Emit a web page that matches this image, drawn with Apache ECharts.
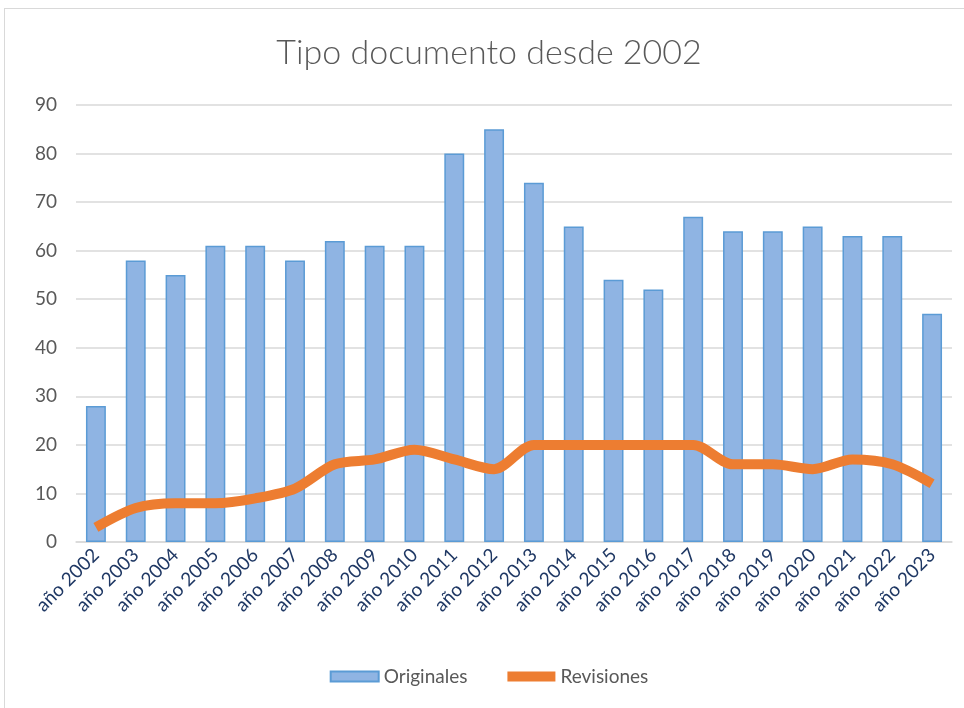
<!DOCTYPE html>
<html>
<head>
  <meta charset="utf-8">
  <script src="https://cdn.jsdelivr.net/npm/echarts@6/dist/echarts.min.js"></script>
  <style>
    html, body { margin: 0; padding: 0; background: #fff; }
    #chart {
      position: absolute;
      left: 4px;
      top: 8px;
      width: 970px;
      height: 710px;
      border: 1px solid #d9d9d9;
      box-sizing: border-box;
    }
  </style>
</head>
<body>
  <div id="chart"></div>
  <script>
    var years = ['año 2002', 'año 2003', 'año 2004', 'año 2005', 'año 2006', 'año 2007',
      'año 2008', 'año 2009', 'año 2010', 'año 2011', 'año 2012', 'año 2013', 'año 2014',
      'año 2015', 'año 2016', 'año 2017', 'año 2018', 'año 2019', 'año 2020', 'año 2021',
      'año 2022', 'año 2023'];
    var originales = [28, 58, 55, 61, 61, 58, 62, 61, 61, 80, 85, 74, 65, 54, 52, 67, 64, 64, 65, 63, 63, 47];
    var revisiones = [3, 7, 8, 8, 9, 11, 16, 17, 19, 17, 15, 20, 20, 20, 20, 20, 16, 16, 15, 17, 16, 12];

    var font = 'Lato, Carlito, sans-serif';
    var chart = echarts.init(document.getElementById('chart'));
    chart.setOption({
      animation: false,
      textStyle: { fontFamily: font },
      title: {
        text: 'Tipo documento desde 2002',
        left: 'center',
        top: 22,
        textStyle: { fontSize: 34, fontWeight: 300, color: '#595959', fontFamily: font }
      },
      legend: {
        bottom: 26,
        left: 'center',
        itemGap: 40,
        itemWidth: 48,
        itemHeight: 10,
        textStyle: { fontSize: 19, color: '#595959', fontFamily: font },
        data: [
          { name: 'Originales', icon: 'rect' },
          { name: 'Revisiones', icon: 'rect' }
        ]
      },
      grid: { left: 71, right: 21, top: 96, bottom: 175 },
      xAxis: {
        type: 'category',
        data: years,
        axisTick: { show: false },
        axisLine: { lineStyle: { color: '#d9d9d9', width: 1.5 } },
        axisLabel: { rotate: 45, fontSize: 19, color: '#1f3864', margin: 10, interval: 0, fontFamily: font }
      },
      yAxis: {
        type: 'value',
        min: 0,
        max: 90,
        interval: 10,
        axisLine: { show: false },
        axisTick: { show: false },
        axisLabel: { fontSize: 19, color: '#595959', margin: 19, fontFamily: font },
        splitLine: { lineStyle: { color: '#d9d9d9', width: 1.5 } }
      },
      series: [
        {
          name: 'Originales',
          type: 'bar',
          data: originales,
          barWidth: '50%',
          itemStyle: { color: '#8fb4e3', borderColor: '#5b9bd5', borderWidth: 1.5 }
        },
        {
          name: 'Revisiones',
          type: 'line',
          data: revisiones,
          smooth: 0.3,
          symbol: 'none',
          lineStyle: { color: '#ed7d31', width: 10 },
          itemStyle: { color: '#ed7d31' }
        }
      ]
    });
  </script>
</body>
</html>
